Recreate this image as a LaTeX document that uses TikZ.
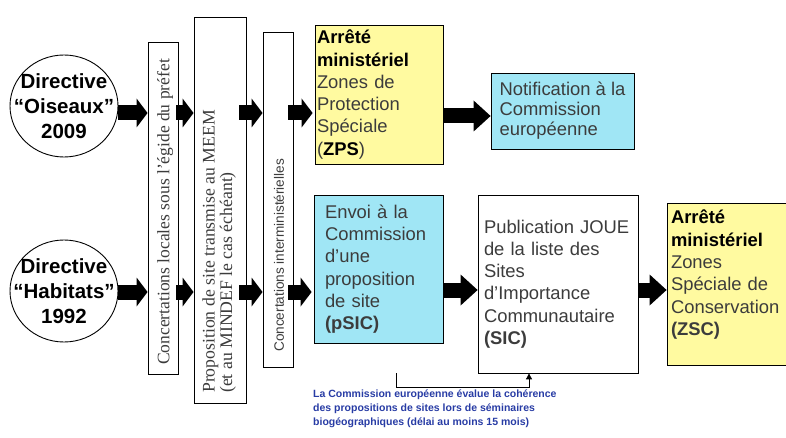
\documentclass[tikz,border=0pt]{standalone}
\usepackage{fontspec}
\setmainfont{Liberation Sans}
\newfontfamily\tms{Liberation Serif}
\usetikzlibrary{arrows.meta,shapes.geometric}
\definecolor{boxyellow}{RGB}{255,250,160}
\definecolor{boxblue}{RGB}{160,230,245}
\definecolor{txtgray}{RGB}{60,60,60}
\definecolor{noteblue}{RGB}{40,60,165}
\begin{document}
\begin{tikzpicture}[x=1pt,y=-1pt,
  dirc/.style={draw, line width=0.9pt, ellipse, minimum width=108pt, minimum height=102pt, inner sep=0pt, fill=white},
  dirtext/.style={font=\bfseries\fontsize{20.5}{25}\selectfont, align=center, inner sep=0pt},
  vbox/.style={draw, line width=0.9pt, inner sep=0pt, fill=white},
  vtext/.style={rotate=90, anchor=west, inner sep=0pt, align=left, text=txtgray},
  tbox/.style={draw, line width=0.8pt, inner ysep=0pt, align=left, text=txtgray, font=\fontsize{18.4}{22.3}\selectfont},
  blk/.style={line width=15pt, -{Triangle[length=11pt,width=29pt,line width=0pt]}},
  bigblk/.style={line width=15pt, -{Triangle[length=17pt,width=31pt,line width=0pt]}},
  bk/.style={line width=0.9pt, -{Triangle[length=6pt,width=6pt]}}
]
\useasboundingbox (0,0) rectangle (786,438);
\fill[white] (0,0) rectangle (786,438);

% directives
\node[dirc] (oiseaux) at (64,106) {};
\node[dirtext] at (oiseaux) {Directive\\“Oiseaux”\\2009};
\node[dirc] (habitats) at (64,291) {};
\node[dirtext] at (habitats) {Directive\\“Habitats”\\1992};

% vertical boxes
\node[vbox, minimum width=30pt, minimum height=332pt] (loc) at (163,208) {};
\node[vtext, font=\tms\fontsize{17.5}{20}\selectfont] at (165,365) {Concertations locales sous l’égide du préfet};
\node[vbox, minimum width=52pt, minimum height=386pt] (prop) at (220,210) {};
\node[vtext, font=\tms\fontsize{17.7}{17.5}\selectfont] at (219,393) {Proposition de site transmise au MEEM\\(et au MINDEF le cas échéant)};
\node[vbox, minimum width=30pt, minimum height=335pt] (inter) at (278,199.5) {};
\node[vtext, font=\fontsize{13.6}{16}\selectfont] at (279,352) {Concertations interministérielles};

% text boxes
\node[tbox, fill=boxyellow, minimum width=128pt, minimum height=139pt, inner xsep=2pt, text width=124pt] (zps) at (379,94.5)
  {\textcolor{black}{\bfseries Arrêté}\\\textcolor{black}{\bfseries ministériel}\\Zones de\\Protection\\Spéciale\\(\textcolor{black}{\bfseries ZPS})};
\node[tbox, fill=boxblue, minimum width=143pt, minimum height=76pt, inner xsep=0pt, font=\fontsize{18.4}{20}\selectfont] (notif) at (562.5,111)
  {Notification à la\\Commission\\européenne};
\node[tbox, fill=boxblue, minimum width=129pt, minimum height=148pt, inner xsep=11pt, text width=107pt] (psic) at (378.5,269)
  {Envoi à la\\Commission\\d’une\\proposition\\de site\\{\bfseries (pSIC)}};
\node[tbox, fill=white, minimum width=160pt, minimum height=178pt, inner xsep=6pt, text width=148pt] (sic) at (558,284)
  {Publication JOUE\\de la liste des\\Sites\\d’Importance\\Communautaire\\{\bfseries (SIC)}};
\node[tbox, fill=boxyellow, minimum width=133pt, minimum height=162pt, inner xsep=4pt, text width=125pt] (zsc) at (733.5,284)
  {\textcolor{black}{\bfseries Arrêté}\\\textcolor{black}{\bfseries ministériel}\\Zones\\Spéciale de\\Conservation\\{\bfseries (ZSC)}\\\mbox{}};

% row coordinates
\coordinate (r1) at (0,113);
\coordinate (r2) at (0,292);

% small block arrows, row 1
\draw[blk] (oiseaux.east |- r1) -- (loc.west |- r1);
\draw[blk] ([xshift=-2pt]loc.east |- r1) -- (prop.west |- r1);
\draw[blk] ([xshift=-7pt]prop.east |- r1) -- (inter.west |- r1);
\draw[blk] ([xshift=-5pt]inter.east |- r1) -- ([xshift=-2pt]zps.west |- r1);
% small block arrows, row 2
\draw[blk] (habitats.east |- r2) -- (loc.west |- r2);
\draw[blk] ([xshift=-2pt]loc.east |- r2) -- (prop.west |- r2);
\draw[blk] ([xshift=-7pt]prop.east |- r2) -- (inter.west |- r2);
\draw[blk] ([xshift=-5pt]inter.east |- r2) -- ([xshift=-2pt]psic.west |- r2);

% big block arrows
\draw[bigblk] ([yshift=-3pt]zps.east |- r1) -- ([yshift=-3pt]notif.west |- r1);
\draw[bigblk] ([yshift=2pt]psic.east |- r2) -- ([yshift=2pt]sic.west |- r2);
\draw[bigblk] ([yshift=2pt]sic.east |- r2) -- ([yshift=2pt]zsc.west |- r2);

% bracket
\coordinate (bkstart) at (396,373);
\draw[bk] (bkstart) -- ++(0,14) -| ([xshift=-29pt]sic.south);

\node[font=\bfseries\fontsize{10.5}{14}\selectfont, text=noteblue, align=left, anchor=north west, inner sep=0pt] (note) at (313,390)
  {La Commission européenne évalue la cohérence\\des propositions de sites lors de séminaires\\biogéographiques (délai au moins 15 mois)};
\end{tikzpicture}
\end{document}
